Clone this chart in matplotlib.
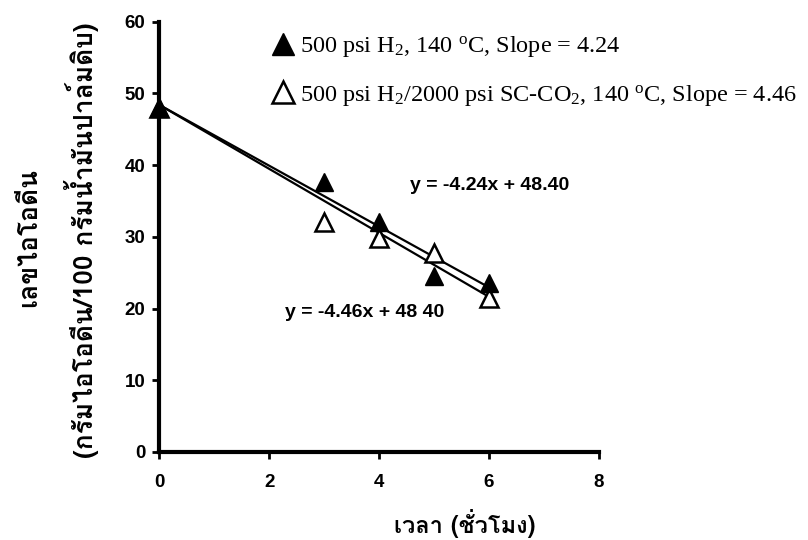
import matplotlib
matplotlib.use('Agg')
import matplotlib.pyplot as plt
from matplotlib import font_manager
from matplotlib.ft2font import FT2Font

# data
hours = [0, 3, 4, 5, 6]
iv_h2 = [48, 37.6, 32.1, 24.5, 23.5]
iv_h2_co2 = [48, 32.1, 29.8, 27.7, 21.5]
slope_h2, slope_co2, intercept = -4.24, -4.46, 48.40
fit_x = [0, 6]
legend_labels = [r'500 psi H$_2$, 140 $^{\mathrm{o}}$C, Slope = 4.24',
                 r'500 psi H$_2$/2000 psi SC-CO$_2$, 140 $^{\mathrm{o}}$C, Slope = 4.46']
eq_labels = ['y = -4.24x + 48.40', 'y = -4.46x + 48 40']


def thai_font():
    # look for any installed face that covers Thai
    for f in font_manager.fontManager.ttflist:
        try:
            if 0x0E40 in FT2Font(f.fname).get_charmap():
                return f.name
        except Exception:
            pass
    return None


thai = thai_font()
thai_family = [thai, 'DejaVu Sans'] if thai else ['DejaVu Sans']

plt.rcParams['font.family'] = ['Liberation Sans', 'DejaVu Sans']
plt.rcParams['mathtext.fontset'] = 'custom'
plt.rcParams['mathtext.rm'] = 'Liberation Serif'
plt.rcParams['mathtext.it'] = 'Liberation Serif:italic'

fig = plt.figure(figsize=(8.08, 5.40), dpi=100)
ax = fig.add_axes([0.197, 0.163, 0.544, 0.797])

ax.plot(fit_x, [intercept + slope_h2 * x for x in fit_x], color='black', lw=1.6, zorder=2)
ax.plot(fit_x, [intercept + slope_co2 * x for x in fit_x], color='black', lw=1.6, zorder=2)
h1, = ax.plot(hours, iv_h2_co2, '^', ms=13, mfc='white', mec='black', mew=1.8,
              ls='none', zorder=3, clip_on=False)
h0, = ax.plot(hours, iv_h2, '^', ms=13, color='black', ls='none', zorder=4,
              clip_on=False)

ax.text(4.56, 37.2, eq_labels[0], fontsize=14, fontweight='bold', va='center')
ax.text(2.29, 19.4, eq_labels[1], fontsize=14, fontweight='bold', va='center')

ax.set_xlim(0, 8)
ax.set_ylim(0, 60)
ax.set_xticks([0, 2, 4, 6, 8])
ax.set_yticks(range(0, 61, 10))
ax.spines['top'].set_visible(False)
ax.spines['right'].set_visible(False)
ax.spines['left'].set_linewidth(3)
ax.spines['bottom'].set_linewidth(3)
ax.tick_params(width=2, length=5, labelsize=13.5)
ax.tick_params(axis='x', pad=11)
ax.tick_params(axis='y', pad=5)
for t in ax.get_xticklabels() + ax.get_yticklabels():
    t.set_fontweight('bold')

leg = fig.legend([h0, h1], legend_labels, loc='upper left',
                 bbox_to_anchor=(0.335, 0.937), frameon=False,
                 prop={'family': 'Liberation Serif', 'size': 17.5},
                 handletextpad=0.2, labelspacing=0.97, handlelength=1.0,
                 borderaxespad=0, borderpad=0, markerscale=1.25)

fig.text(0.575, 0.03, 'เวลา (ชั่วโมง)', family=thai_family, fontsize=17,
         fontweight='bold', ha='center', va='center')
fig.text(0.036, 0.561, 'เลขไอโอดีน', family=thai_family, fontsize=19,
         fontweight='bold', rotation=90, ha='center', va='center')
fig.text(0.101, 0.556, '(กรัมไอโอดีน/100 กรัมน้ำมันปาล์มดิบ)', family=thai_family,
         fontsize=19, fontweight='bold', rotation=90, ha='center', va='center')

fig.savefig('out.png', dpi=100)
